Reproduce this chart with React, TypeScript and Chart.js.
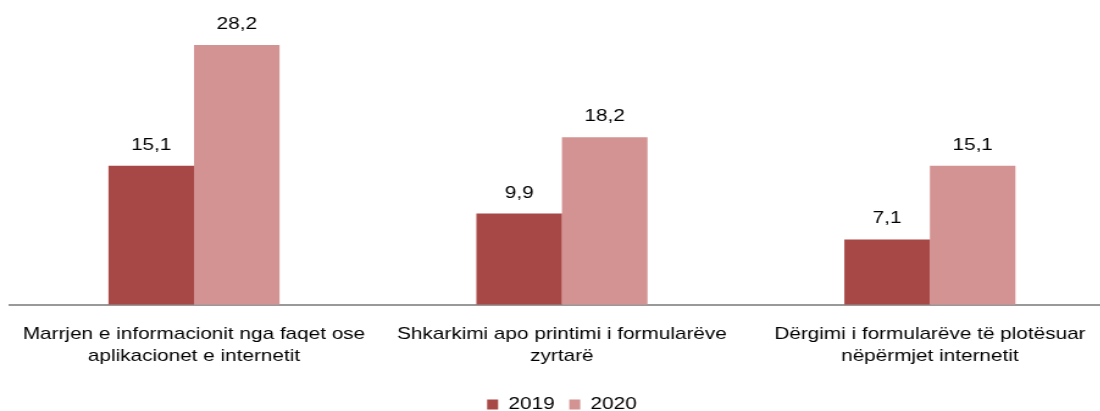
import React, { useEffect, useRef } from "react";
import { Chart, registerables } from "chart.js";

Chart.register(...registerables);

const categories: string[][] = [
  ["Marrjen e informacionit nga faqet ose", "aplikacionet e internetit"],
  ["Shkarkimi apo printimi i formularëve", "zyrtarë"],
  ["Dërgimi i formularëve të plotësuar", "nëpërmjet internetit"],
];
const seriesNames = ["2019", "2020"];
const values2019 = [15.1, 9.9, 7.1];
const values2020 = [28.2, 18.2, 15.1];

const FONT = "Arial, 'Liberation Sans', sans-serif";
const STRETCH = 1.22;
const LOGICAL_W = 930;

const valueLabels = {
  id: "valueLabels",
  afterDatasetsDraw(chart: any) {
    const ctx = chart.ctx;
    ctx.save();
    ctx.font = `17px ${FONT}`;
    ctx.fillStyle = "#000";
    ctx.textAlign = "center";
    ctx.textBaseline = "alphabetic";
    chart.data.datasets.forEach((ds: any, i: number) => {
      const meta = chart.getDatasetMeta(i);
      meta.data.forEach((bar: any, j: number) => {
        const v = ds.data[j] as number;
        ctx.fillText(v.toFixed(1).replace(".", ","), bar.x, bar.y - 16);
      });
    });
    ctx.restore();
  },
};

export default function App() {
  const ref = useRef<HTMLCanvasElement | null>(null);
  useEffect(() => {
    document.body.style.overflow = "hidden";
    const chart = new Chart(ref.current!, {
      type: "bar",
      data: {
        labels: categories,
        datasets: [
          { label: seriesNames[0], data: values2019, backgroundColor: "#A84846" },
          { label: seriesNames[1], data: values2020, backgroundColor: "#D39392" },
        ],
      },
      options: {
        animation: false,
        responsive: true,
        maintainAspectRatio: false,
        layout: { padding: { left: 8.2, right: 17, top: 10, bottom: 0 } },
        datasets: {
          bar: { barPercentage: 1, categoryPercentage: 0.465 },
        },
        scales: {
          y: { display: false, min: 0, max: 32 },
          x: {
            grid: { display: false },
            border: { display: true, color: "#999999", width: 2 },
            ticks: {
              color: "#000",
              font: { family: FONT, size: 17, lineHeight: 1.3 },
              padding: 10,
              maxRotation: 0,
              autoSkip: false,
            },
            afterFit(scale: any) {
              scale.height += 7;
            },
          },
        },
        plugins: {
          legend: {
            position: "bottom",
            labels: {
              color: "#000",
              font: { family: FONT, size: 17 },
              boxWidth: 9,
              boxHeight: 10,
              padding: 12,
            },
          },
          tooltip: { enabled: false },
        },
      },
      plugins: [valueLabels],
    });
    return () => chart.destroy();
  }, []);
  return (
    <div
      style={{
        position: "absolute",
        left: 0,
        top: 0,
        width: LOGICAL_W,
        height: 423,
        transform: `scaleX(${STRETCH})`,
        transformOrigin: "0 0",
      }}
    >
      <canvas ref={ref} />
    </div>
  );
}
